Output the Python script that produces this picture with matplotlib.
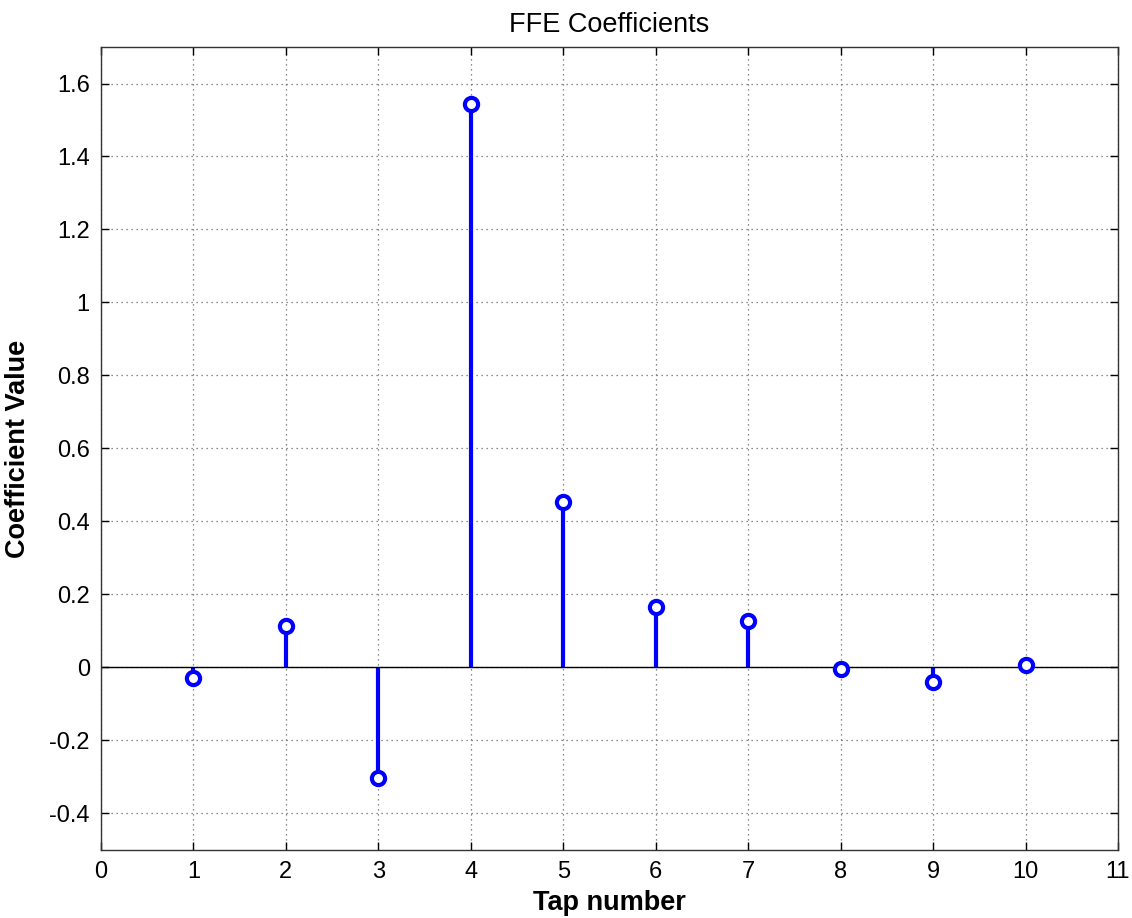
import matplotlib
matplotlib.use("Agg")
import matplotlib.pyplot as plt

plt.rcParams['font.family'] = ['Liberation Sans', 'DejaVu Sans']

taps = [1, 2, 3, 4, 5, 6, 7, 8, 9, 10]
coefficients = [-0.030, 0.1125, -0.302, 1.545, 0.453, 0.165, 0.126, -0.005, -0.040, 0.008]
x_ticks = list(range(0, 12))
y_ticks = [-0.4, -0.2, 0, 0.2, 0.4, 0.6, 0.8, 1.0, 1.2, 1.4, 1.6]
y_tick_labels = ['-0.4', '-0.2', '0', '0.2', '0.4', '0.6', '0.8', '1', '1.2', '1.4', '1.6']

fig = plt.figure(figsize=(11.32, 9.18), dpi=100)
ax = fig.add_axes([0.0892, 0.0741, 0.8984, 0.8747])

markerline, stemlines, baseline = ax.stem(taps, coefficients, basefmt='k-')
plt.setp(stemlines, color='#0000ff', linewidth=3.0)
plt.setp(markerline, marker='o', markersize=9.5, markerfacecolor='white',
         markeredgecolor='#0000ff', markeredgewidth=3.0, zorder=4)
plt.setp(baseline, color='black', linewidth=1.0)
baseline.set_xdata([0, 11])

ax.set_xlim(0, 11)
ax.set_ylim(-0.5, 1.7)
ax.set_xticks(x_ticks)
ax.set_yticks(y_ticks)
ax.set_yticklabels(y_tick_labels)
ax.tick_params(direction='in', length=6, width=1, top=True, right=True,
               labelsize=17, colors='black', pad=8)
ax.grid(True, linestyle=(0, (1, 3)), color='#666666', linewidth=0.9)
ax.set_axisbelow(True)
for s in ax.spines.values():
    s.set_color('#333333')
    s.set_linewidth(1.0)

ax.set_title('FFE Coefficients', fontsize=19.5, pad=11)
ax.set_xlabel('Tap number', fontsize=19.5, fontweight='bold', labelpad=5)
ax.set_ylabel('Coefficient Value', fontsize=19.5, fontweight='bold', labelpad=13)

fig.savefig('out.png', dpi=100)
